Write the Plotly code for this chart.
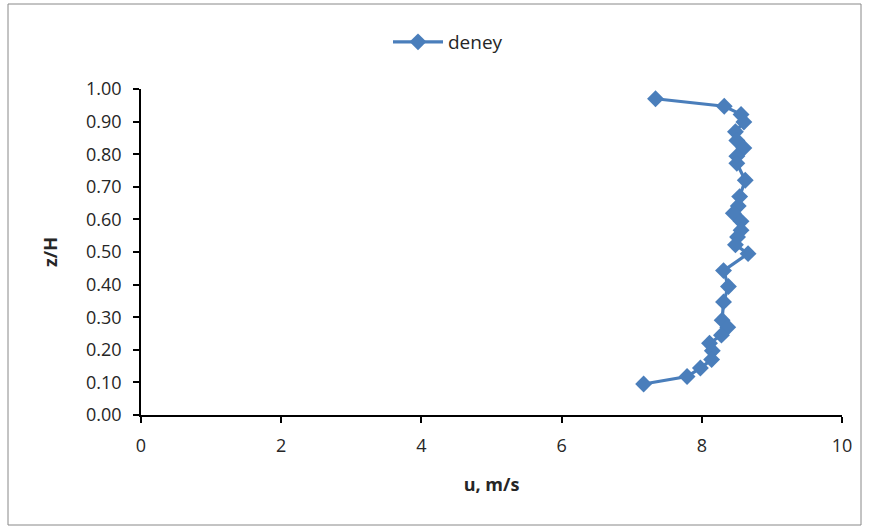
import plotly.graph_objects as go

u = [7.34, 8.32, 8.56, 8.60, 8.48, 8.50, 8.60, 8.50, 8.50, 8.62, 8.54, 8.52, 8.45, 8.56, 8.56,
     8.51, 8.48, 8.66, 8.31, 8.38, 8.31, 8.29, 8.37, 8.28, 8.11, 8.15, 8.14, 7.98, 7.79, 7.17]
zH = [0.970, 0.947, 0.922, 0.899, 0.869, 0.842, 0.819, 0.794, 0.772, 0.720, 0.670, 0.641, 0.619,
      0.594, 0.567, 0.546, 0.522, 0.495, 0.443, 0.394, 0.347, 0.291, 0.269, 0.245, 0.220, 0.197,
      0.170, 0.144, 0.118, 0.095]
series_name = "deney"
x_ticks = [0, 2, 4, 6, 8, 10]
y_ticks = [0.0, 0.1, 0.2, 0.3, 0.4, 0.5, 0.6, 0.7, 0.8, 0.9, 1.0]

W, H = 869, 527
L, R, T, B = 141, 842, 89, 415
BLUE = "#4A7EBB"
TXT = "#262626"
FAM = "Open Sans, Noto Sans, sans-serif"

fig = go.Figure(go.Scatter(
    x=u, y=zH, mode="lines+markers", name=series_name,
    line=dict(color=BLUE, width=3.2),
    marker=dict(symbol="diamond", size=13, color=BLUE),
))

fig.update_layout(
    width=W, height=H,
    margin=dict(l=L, r=W - R, t=T, b=H - B),
    paper_bgcolor="white", plot_bgcolor="white",
    font=dict(family=FAM, size=18, color=TXT),
    showlegend=True,
    legend=dict(orientation="h", x=(448 - L) / (R - L), xanchor="center",
                y=1 + (T - 42) / (B - T), yanchor="middle",
                font=dict(size=19, color=TXT), itemwidth=50),
    xaxis=dict(range=[0, 10], tickvals=x_ticks, ticktext=[str(v) for v in x_ticks],
               showgrid=False, zeroline=False, showline=True, linecolor="black", linewidth=1.5,
               ticks="outside", ticklen=6, tickcolor="black", tickwidth=1.5,
               ticklabelstandoff=8,
               title=dict(text="<b>u, m/s</b>", font=dict(size=18, color=TXT), standoff=22)),
    yaxis=dict(range=[0, 1], tickvals=y_ticks, ticktext=[f"{v:.2f}" for v in y_ticks],
               showgrid=False, zeroline=False, showline=True, linecolor="black", linewidth=1.5,
               ticks="outside", ticklen=6, tickcolor="black", tickwidth=1.5,
               ticklabelstandoff=8,
               title=dict(text="<b>z/H</b>", font=dict(size=18, color=TXT), standoff=24)),
)

pw, ph = R - L, B - T
fig.add_shape(type="rect", xref="paper", yref="paper",
              x0=(8 - L) / pw, x1=(861 - L) / pw,
              y0=(B - 525) / ph, y1=(B - 4) / ph,
              line=dict(color="#888888", width=1), layer="below")

fig.write_html("out.html", config={"displayModeBar": False},
               post_script="document.body.style.margin='0';document.body.style.overflow='hidden';")
